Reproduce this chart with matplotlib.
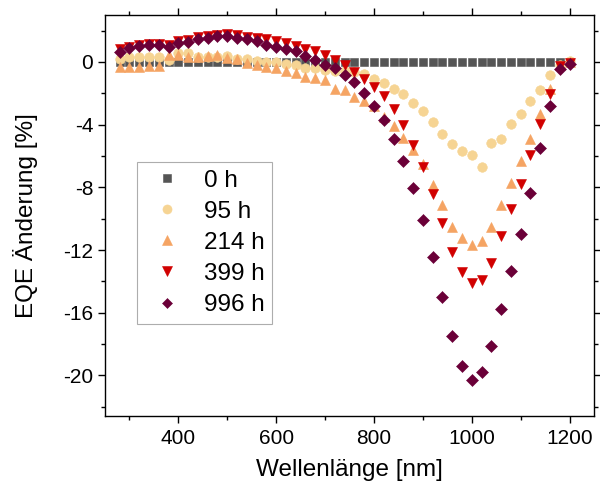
import matplotlib
matplotlib.use("Agg")
import matplotlib.pyplot as plt
from matplotlib.ticker import MultipleLocator

plt.rcParams["font.family"] = ["Liberation Sans", "DejaVu Sans"]
plt.rcParams["axes.unicode_minus"] = False

# wavelength grid [nm]
wavelength = [280, 300, 320, 340, 360, 380, 400, 420, 440, 460, 480, 500,
              520, 540, 560, 580, 600, 620, 640, 660, 680, 700, 720, 740,
              760, 780, 800, 820, 840, 860, 880, 900, 920, 940, 960, 980,
              1000, 1020, 1040, 1060, 1080, 1100, 1120, 1140, 1160, 1180, 1200]

# EQE change [%] per ageing time
eqe_0h = [0.0, 0.0, 0.0, 0.0, 0.0, 0.0, 0.0, 0.0, 0.0, 0.0, 0.0, 0.0,
          0.0, 0.0, 0.0, 0.0, 0.0, 0.0, 0.0, 0.0, 0.0, 0.0, 0.0, 0.0,
          0.0, 0.0, 0.0, 0.0, 0.0, 0.0, 0.0, 0.0, 0.0, 0.0, 0.0, 0.0,
          0.0, 0.0, 0.0, 0.0, 0.0, 0.0, 0.0, 0.0, 0.0, 0.0, 0.0]
eqe_95h = [0.22, 0.32, 0.32, 0.32, 0.32, 0.1, 0.6, 0.55, 0.35, 0.32, 0.35, 0.38,
           0.22, 0.2, 0.05, 0.0, 0.0, -0.15, -0.2, -0.4, -0.38, -0.5, -0.55, -0.6,
           -0.65, -0.74, -1.06, -1.31, -1.74, -2.06, -2.61, -3.14, -3.86, -4.6, -5.25, -5.7,
           -5.92, -6.69, -5.16, -4.9, -3.97, -3.35, -2.48, -1.76, -0.8, -0.17, 0.05]
eqe_214h = [-0.32, -0.3, -0.3, -0.28, -0.25, 0.43, 0.47, 0.32, 0.32, 0.4, 0.45, 0.25,
            0.22, -0.04, -0.17, -0.32, -0.38, -0.59, -0.68, -0.96, -1.02, -1.17, -1.7, -1.8,
            -2.23, -2.5, -2.82, -3.5, -4.1, -4.82, -5.62, -6.5, -7.85, -9.13, -10.5, -11.25,
            -11.68, -11.4, -10.5, -9.13, -7.7, -6.3, -4.92, -3.29, -1.7, -0.2, 0.0]
eqe_399h = [0.8, 0.95, 1.1, 1.15, 1.15, 1.1, 1.35, 1.4, 1.6, 1.65, 1.75, 1.8,
            1.7, 1.6, 1.5, 1.45, 1.32, 1.23, 1.02, 0.81, 0.68, 0.43, 0.11, -0.17,
            -0.64, -1.06, -1.59, -2.18, -3.03, -3.99, -5.3, -6.73, -8.45, -10.25, -12.1, -13.4,
            -14.1, -13.9, -12.8, -11.1, -9.4, -7.8, -5.95, -3.95, -2.05, -0.25, -0.05]
eqe_996h = [0.64, 0.89, 1.02, 1.06, 1.06, 0.96, 1.23, 1.27, 1.49, 1.53, 1.64, 1.64,
            1.53, 1.45, 1.32, 1.1, 0.96, 0.85, 0.68, 0.38, 0.11, -0.17, -0.38, -0.8,
            -1.27, -2.0, -2.82, -3.71, -4.92, -6.32, -8.07, -10.08, -12.46, -15.03, -17.52, -19.38,
            -20.27, -19.8, -18.11, -15.75, -13.33, -10.97, -8.34, -5.52, -2.8, -0.42, -0.1]

labels = ["0 h", "95 h", "214 h", "399 h", "996 h"]

# (values, marker, colour, marker size)
series = [
    (eqe_0h, "s", "#555555", 5.6),
    (eqe_95h, "o", "#F6D493", 6.9),
    (eqe_214h, "^", "#F5A463", 7.4),
    (eqe_399h, "v", "#D10000", 7.8),
    (eqe_996h, "D", "#6B0038", 5.8),
]

fig, ax = plt.subplots(figsize=(6.0, 4.93), dpi=100)
fig.subplots_adjust(left=0.175, right=0.99, top=0.9696, bottom=0.156)

for (vals, mk, col, ms), lab in zip(series, labels):
    ax.plot(wavelength, vals, linestyle="none", marker=mk, color=col,
            markersize=ms, markeredgewidth=0.4, markeredgecolor=col, label=lab)

ax.set_xlim(250, 1250)
ax.set_ylim(-22.6, 3.0)
ax.xaxis.set_major_locator(MultipleLocator(200))
ax.xaxis.set_minor_locator(MultipleLocator(100))
ax.yaxis.set_major_locator(MultipleLocator(4))
ax.yaxis.set_minor_locator(MultipleLocator(2))
ax.tick_params(which="both", direction="out", top=True, right=True,
               labeltop=False, labelright=False, width=1.0)
ax.tick_params(which="major", length=5, labelsize=15)
ax.tick_params(axis="x", which="major", pad=4.5)
ax.tick_params(which="minor", length=3)
for sp in ax.spines.values():
    sp.set_linewidth(1.0)

ax.set_xlabel("Wellenlänge [nm]", fontsize=17.5)
ax.set_ylabel("EQE Änderung [%]", fontsize=17.5)
ax.xaxis.set_label_coords(0.5, -0.108)
ax.yaxis.set_label_coords(-0.137, 0.5)

leg = ax.legend(loc="upper left", bbox_to_anchor=(0.0654, 0.633), fontsize=17.5,
                frameon=True, fancybox=False, edgecolor="#999999",
                handletextpad=0.62, labelspacing=0.37, borderpad=0.32,
                borderaxespad=0.0, handlelength=1.8, markerscale=0.95)
leg.get_frame().set_linewidth(0.8)

fig.savefig("out.png", dpi=100)
